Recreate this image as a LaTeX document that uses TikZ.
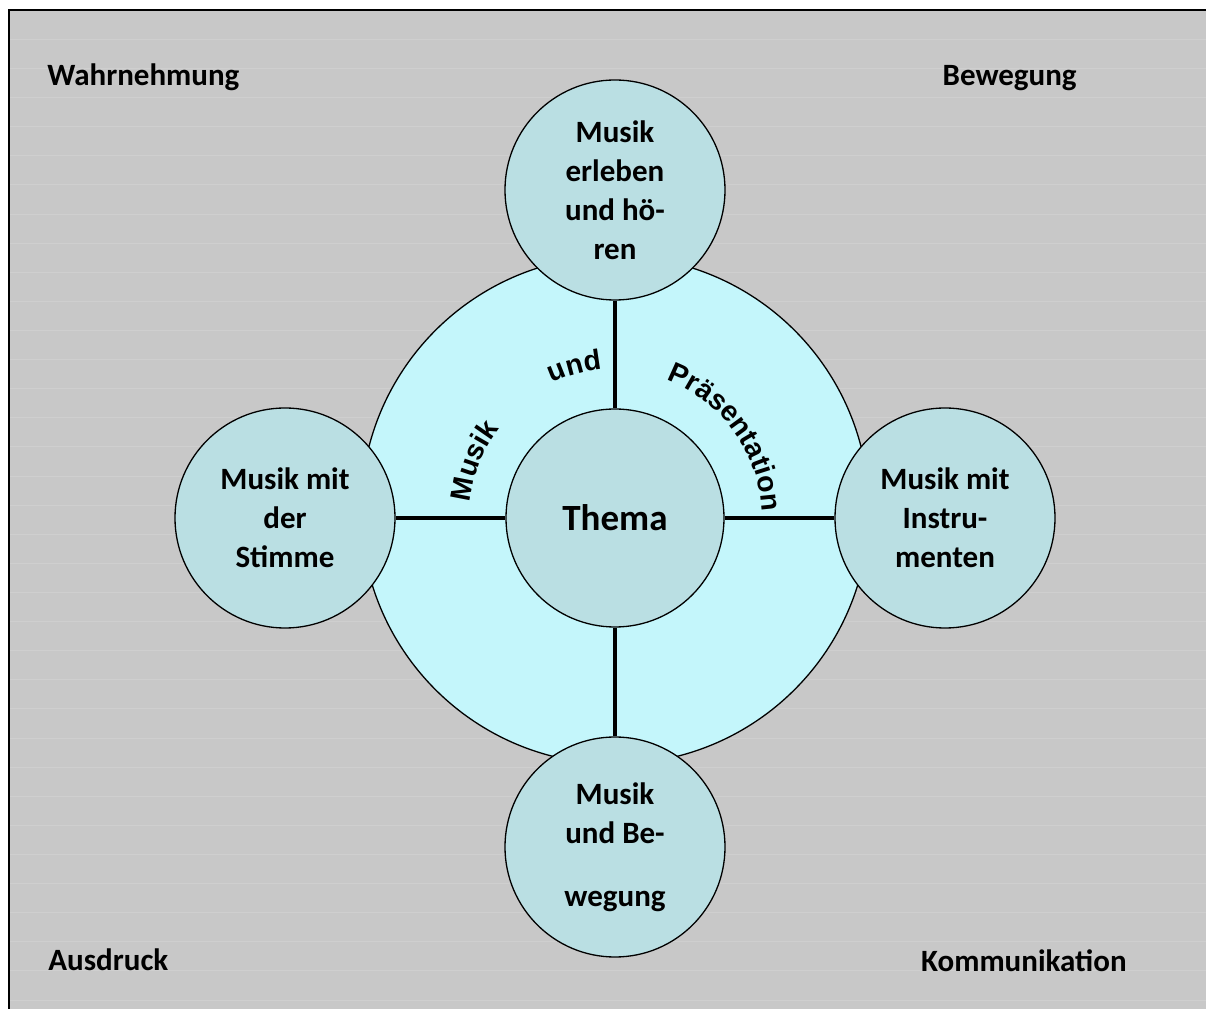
\documentclass[tikz,border=0pt]{standalone}
\usepackage{fontspec}
\setmainfont{Carlito}
\newfontfamily\arcfont{Liberation Sans}
\usetikzlibrary{decorations.text}
\definecolor{paper}{RGB}{200,200,200}
\definecolor{rule}{RGB}{207,207,207}
\definecolor{ringfill}{RGB}{196,246,251}
\definecolor{bubble}{RGB}{186,223,227}
\newcommand\arcstyle{\arcfont\bfseries\fontsize{14.2}{17}\selectfont}
\begin{document}
\begin{tikzpicture}[
  x=0.5pt,y=0.5pt,
  every node/.style={font=\bfseries\fontsize{15.5}{19.5}\selectfont},
  bubblenode/.style={circle,draw,line width=.65pt,fill=bubble,
    minimum size=110pt,inner sep=0pt,align=center},
  spoke/.style={line width=2.2pt},
  corner/.style={inner sep=0pt}]
  \useasboundingbox (0,0) rectangle (1206,1008);
  % sheet with ruled lines, border only on top and left
  \fill[white] (0,0) rectangle (1206,1008);
  \fill[paper] (9,-10) rectangle (1220,998);
  \foreach \k in {0,...,33}
    \draw[rule,line width=.4pt] (10,{968.7-29.11*\k}) -- (1220,{968.7-29.11*\k});
  \draw[line width=1.3pt] (9,-10) -- (9,998) -- (1220,998);

  \node[corner,anchor=base west] (wahr) at (47,922) {Wahrnehmung};
  \node[corner,anchor=base east] (beweg) at (1077,922) {Bewegung};
  \node[corner,anchor=base west] (ausd) at (48,38) {Ausdruck};
  \node[corner,anchor=base east] (komm) at (1127,37) {Kommunikation};

  \node[circle,draw,line width=.65pt,fill=ringfill,minimum size=254pt,
    inner sep=0pt] (ring) at (615,498) {};

  \node[bubblenode,minimum size=109pt,
    font=\bfseries\fontsize{18.5}{22}\selectfont] (thema) at (615,490) {Thema};
  \node[bubblenode] (hoeren) at (615,818) {Musik\\erleben\\und hö-\\ren};
  \node[bubblenode] (stimme) at (285,490) {Musik mit\\der\\Stimme};
  \node[bubblenode] (instr) at (945,490) {Musik mit\\Instru-\\menten};
  \node[bubblenode] (bewegung) at (615,161) {Musik\\und Be-\\[12pt]wegung};

  \draw[spoke] (hoeren) -- (thema);
  \draw[spoke] (stimme) -- (thema);
  \draw[spoke] (thema) -- (instr);
  \draw[spoke] (thema) -- (bewegung);

  % words bent round the centre, read clockwise
  \path[decorate,decoration={text along path,text align=center,
    text={|\arcstyle|Musik}}]
    ([shift={(188:146)}]thema.center) arc[start angle=188,end angle=128,radius=146];
  \path[decorate,decoration={text along path,text align=center,
    text={|\arcstyle|und}}]
    ([shift={(135:149)}]thema.center) arc[start angle=135,end angle=75,radius=149];
  \path[decorate,decoration={text along path,text align=center,
    text={|\arcstyle|Präsentation}}]
    ([shift={(81:147)}]thema.center) arc[start angle=81,end angle=-9,radius=147];
\end{tikzpicture}
\end{document}
